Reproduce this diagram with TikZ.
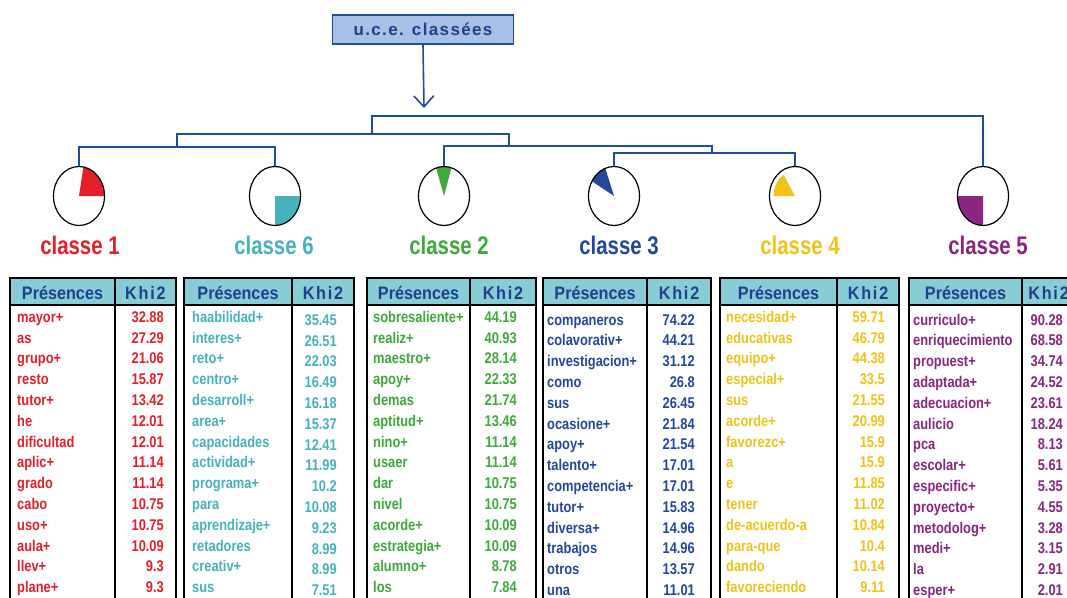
\documentclass[tikz,border=0pt]{standalone}
\usepackage{fontspec}
\setmainfont{Liberation Sans}
\newfontfamily\rowfont[FakeStretch=0.83]{Liberation Sans}
\newfontfamily\hdfont[FakeStretch=0.9]{Liberation Sans}
\newfontfamily\khfont[FakeStretch=0.9,LetterSpace=10]{Liberation Sans}
\newfontfamily\clfont[FakeStretch=0.8]{Liberation Sans}
\newfontfamily\topfont[LetterSpace=8]{Liberation Sans}
\usetikzlibrary{shapes.geometric,arrows.meta}
\definecolor{cred}{HTML}{E3202A}
\definecolor{cteal}{HTML}{45B3BA}
\definecolor{cgreen}{HTML}{3DAA3A}
\definecolor{cblue}{HTML}{22489A}
\definecolor{cyellow}{HTML}{EEC418}
\definecolor{cpurple}{HTML}{8A2580}
\definecolor{hdfill}{HTML}{88CDD5}
\definecolor{hdtext}{HTML}{1F3F8F}
\definecolor{treecol}{HTML}{1F4E9A}
\definecolor{topfill}{HTML}{A8BFE6}
\newcommand\mytable[4]{%
  \fill[hdfill] (#1,278) rectangle (#3,305);
  \draw[tb] (#1,278) rectangle (#3,640);
  \draw[tb] (#1,305) -- (#3,305);
  \draw[tb] (#2,278) -- (#2,640);
  \node[hd,anchor=base] (#4p) at ({(#1+#2)/2},299.3) {Présences};
  \node[hd,anchor=base,font=\khfont\bfseries\fontsize{18}{20}\selectfont] (#4k) at ({(#2+#3)/2},299.3) {Khi2};
}
\newcommand\myrows[7]{%
  \foreach [count=\i] \w/\v in {#7} {
    \node[rowtxt, text=#1, anchor=base west] (#6w\i) at (#2,{#4+20.8*(\i-1)}) {\w};
    \node[rowtxt, text=#1, anchor=base east] (#6v\i) at (#3,{#5+20.8*(\i-1)}) {\v};
  }%
}
\begin{document}
\begin{tikzpicture}[x=1pt,y=-1pt,
  tree/.style={draw=treecol, line width=2pt},
  circ/.style={ellipse, draw=black, line width=1.2pt, minimum width=51pt, minimum height=59pt, inner sep=0pt},
  cls/.style={font=\clfont\bfseries\fontsize{25.5}{28}\selectfont, inner sep=0pt},
  tb/.style={draw=black, line width=2pt},
  hd/.style={font=\hdfont\bfseries\fontsize{18}{20}\selectfont, text=hdtext, inner sep=0pt},
  rowtxt/.style={font=\rowfont\bfseries\fontsize{15.5}{17}\selectfont, inner sep=0pt},
  topbox/.style={draw=treecol, line width=1.5pt, fill=topfill, minimum width=181pt, minimum height=29pt, inner sep=0pt,
    font=\topfont\bfseries\fontsize{17}{19}\selectfont, text=hdtext}]
\useasboundingbox (0,0) rectangle (1067,597);
\clip (0,0) rectangle (1067,597);
\fill[white] (0,0) rectangle (1067,597);

% top box and arrow
\node[topbox] (top) at (423,29.5) {u.c.e. classées};
\coordinate (tip) at (424,108);
\draw[tree, line width=1.6pt, -{Straight Barb[length=11pt,width=20pt]}] (top.south) -- (tip);

% circle centres
\coordinate (p1) at (79,196);
\coordinate (p6) at (275,196);
\coordinate (p2) at (444,196);
\coordinate (p3) at (614,196);
\coordinate (p4) at (795,196);
\coordinate (p5) at (983,196);

% wedges
\fill[cred] (p1) -- ++(0:25.5 and 29.5) arc[start angle=0, end angle=-80, x radius=25.5, y radius=29.5] -- cycle;
\fill[cteal] (p6) -- ++(0:25.5 and 29.5) arc[start angle=0, end angle=90, x radius=25.5, y radius=29.5] -- cycle;
\fill[cgreen] (p2) -- ++(-73:25.5 and 29.5) arc[start angle=-73, end angle=-108, x radius=25.5, y radius=29.5] -- cycle;
\fill[cblue] (p3) -- ++(-110:25.5 and 29.5) arc[start angle=-110, end angle=-150, x radius=25.5, y radius=29.5] -- cycle;
\fill[cyellow] (p4) -- ++(-122:21.5 and 25) arc[start angle=-122, end angle=-180, x radius=21.5, y radius=25] -- cycle;
\fill[cpurple] (p5) -- ++(90:25.5 and 29.5) arc[start angle=90, end angle=180, x radius=25.5, y radius=29.5] -- cycle;

% circles
\node[circ] (c1) at (p1) {};
\node[circ] (c6) at (p6) {};
\node[circ] (c2) at (p2) {};
\node[circ] (c3) at (p3) {};
\node[circ] (c4) at (p4) {};
\node[circ] (c5) at (p5) {};

% tree
\coordinate (j16) at (177,147);
\coordinate (jA) at (372,134);
\coordinate (j234) at (509,146);
\coordinate (j34) at (712,153);
\coordinate (jtop) at (424,116);
\draw[tree] (c1.north) |- (j16) -| (c6.north);
\draw[tree] (j16) |- (jA) -| (j234);
\draw[tree] (c2.north) |- (j234) -| (j34);
\draw[tree] (c3.north) |- (j34) -| (c4.north);
\draw[tree] (jA) |- (jtop) -| (c5.north);

% class labels
\node[cls, text=cred, anchor=base] (l1) at (80,254) {classe 1};
\node[cls, text=cteal, anchor=base] (l6) at (274,254) {classe 6};
\node[cls, text=cgreen, anchor=base] (l2) at (449,254) {classe 2};
\node[cls, text=cblue, anchor=base] (l3) at (619,254) {classe 3};
\node[cls, text=cyellow, anchor=base] (l4) at (800,254) {classe 4};
\node[cls, text=cpurple, anchor=base] (l5) at (988,254) {classe 5};

% tables
\mytable{10}{115}{176}{ta}
\mytable{184}{292}{354}{tb}
\mytable{367}{470}{536}{tc}
\mytable{543}{647}{711}{td}
\mytable{720}{837}{899}{te}
\mytable{909}{1022}{1075}{tf}

\myrows{cred}{17}{164}{322.3}{322.3}{ra}{mayor+/32.88, as/27.29, grupo+/21.06, resto/15.87, tutor+/13.42, he/12.01, dificultad/12.01, aplic+/11.14, grado/11.14, cabo/10.75, uso+/10.75, aula+/10.09, llev+/9.3, plane+/9.3}
\myrows{cteal}{192}{337}{322.3}{325.3}{rb}{haabilidad+/35.45, interes+/26.51, reto+/22.03, centro+/16.49, desarroll+/16.18, area+/15.37, capacidades/12.41, actividad+/11.99, programa+/10.2, para/10.08, aprendizaje+/9.23, retadores/8.99, creativ+/8.99, sus/7.51}
\myrows{cgreen}{373}{517}{322.3}{322.3}{rc}{sobresaliente+/44.19, realiz+/40.93, maestro+/28.14, apoy+/22.33, demas/21.74, aptitud+/13.46, nino+/11.14, usaer/11.14, dar/10.75, nivel/10.75, acorde+/10.09, estrategia+/10.09, alumno+/8.78, los/7.84}
\myrows{cblue}{547}{695}{325}{325}{rd}{companeros/74.22, colavorativ+/44.21, investigacion+/31.12, como/26.8, sus/26.45, ocasione+/21.84, apoy+/21.54, talento+/17.01, competencia+/17.01, tutor+/15.83, diversa+/14.96, trabajos/14.96, otros/13.57, una/11.01}
\myrows{cyellow}{726}{885}{322.3}{322.3}{re}{necesidad+/59.71, educativas/46.79, equipo+/44.38, especial+/33.5, sus/21.55, acorde+/20.99, favorezc+/15.9, a/15.9, e/11.85, tener/11.02, de-acuerdo-a/10.84, para-que/10.4, dando/10.14, favoreciendo/9.11}
\myrows{cpurple}{913}{1063}{325}{325}{rf}{curriculo+/90.28, enriquecimiento/68.58, propuest+/34.74, adaptada+/24.52, adecuacion+/23.61, aulicio/18.24, pca/8.13, escolar+/5.61, especific+/5.35, proyecto+/4.55, metodolog+/3.28, medi+/3.15, la/2.91, esper+/2.01}
\end{tikzpicture}
\end{document}
